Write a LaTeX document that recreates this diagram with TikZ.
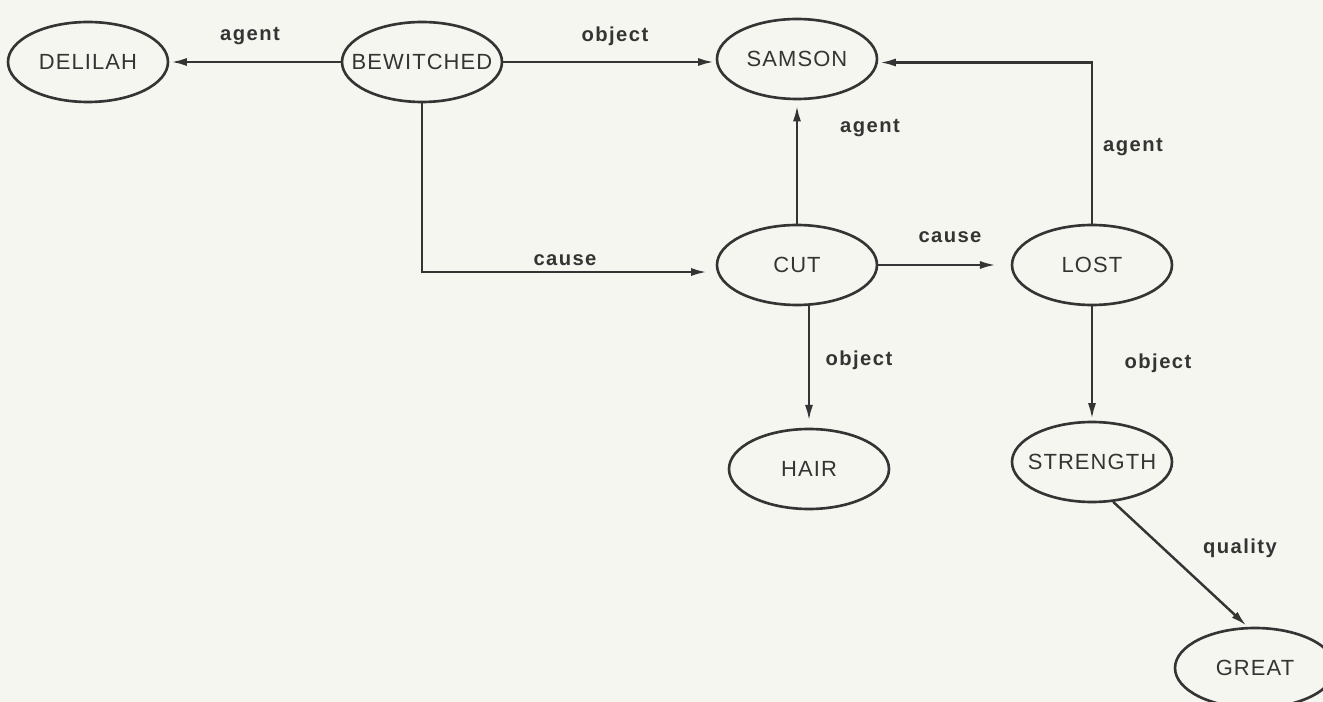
\documentclass[tikz,border=0pt]{standalone}
\usepackage{fontspec}
\setmainfont{Liberation Sans}
\newfontfamily\nodefont[LetterSpace=5]{Liberation Sans}
\newfontfamily\relfont[LetterSpace=7]{Liberation Sans}
\usepackage{xcolor}
\usepackage{tikz}
\usetikzlibrary{shapes.geometric}
\usetikzlibrary{arrows.meta}

\definecolor{paper}{RGB}{246,246,240}
\definecolor{ink}{RGB}{52,52,52}

\tikzset{
    concept/.style = {draw = ink, ellipse, line width = 1.5pt, text = ink,
        inner xsep = -8pt, inner ysep = 0pt,
        minimum width = 3.2cm, minimum height = 1.6cm,
        font = \nodefont\fontsize{12.5}{14}\selectfont},
    link/.style = {draw = ink, line width = 1.4pt,
        -{Latex[length = 9pt, width = 4.6pt]}, shorten > = 1pt},
    rel/.style = {text = ink, font = \relfont\bfseries\fontsize{11.5}{13}\selectfont}
}

\begin{document}
\begin{tikzpicture}[x = 0.02cm, y = -0.02cm]
        \fill[paper] (0, 0) rectangle (1323, 702);
        \useasboundingbox (0, 0) rectangle (1323, 702);

        \node[concept] (delilah) at (88, 62) {DELILAH};
        \node[concept] (bewitched) at (422, 62) {BEWITCHED};
        \node[concept] (samson) at (797, 59) {SAMSON};
        \node[concept] (cut) at (797, 265) {CUT};
        \node[concept] (lost) at (1092, 265) {LOST};
        \node[concept] (hair) at (809, 469) {HAIR};
        \node[concept] (strength) at (1092, 462) {STRENGTH};
        \node[concept] (great) at (1255, 668) {GREAT};

        \draw[link] (bewitched.west) -- (delilah.east);
        \draw[link] (bewitched.east) -- (bewitched.east -| samson.west);
        \draw[link, shorten > = 5pt] (bewitched.south)
            |- ([yshift = -4pt]cut.west);
        \draw[link, shorten > = 3pt] (cut.north) -- (samson.south);
        \draw[link, shorten > = 8.5pt] (cut.east) -- (lost.west);
        \draw[link] (lost.north) |- ([yshift = -2pt]samson.east);
        \draw[link, shorten > = 4pt] (cut.south -| hair.north) -- (hair.north);
        \draw[link] (lost.south) -- (strength.north);
        \draw[link] (strength.-62) -- (great.100);

        \node[rel] (agentA) at (250, 36) {agent};
        \node[rel] (objectA) at (615, 36) {object};
        \node[rel] (causeA) at (565, 260) {cause};
        \node[rel] (agentB) at (870, 128) {agent};
        \node[rel] (causeB) at (950, 237) {cause};
        \node[rel] (agentC) at (1133, 147) {agent};
        \node[rel] (objectB) at (859, 360) {object};
        \node[rel] (objectC) at (1158, 363) {object};
        \node[rel] (quality) at (1240, 548) {quality};
    \end{tikzpicture}
\end{document}
